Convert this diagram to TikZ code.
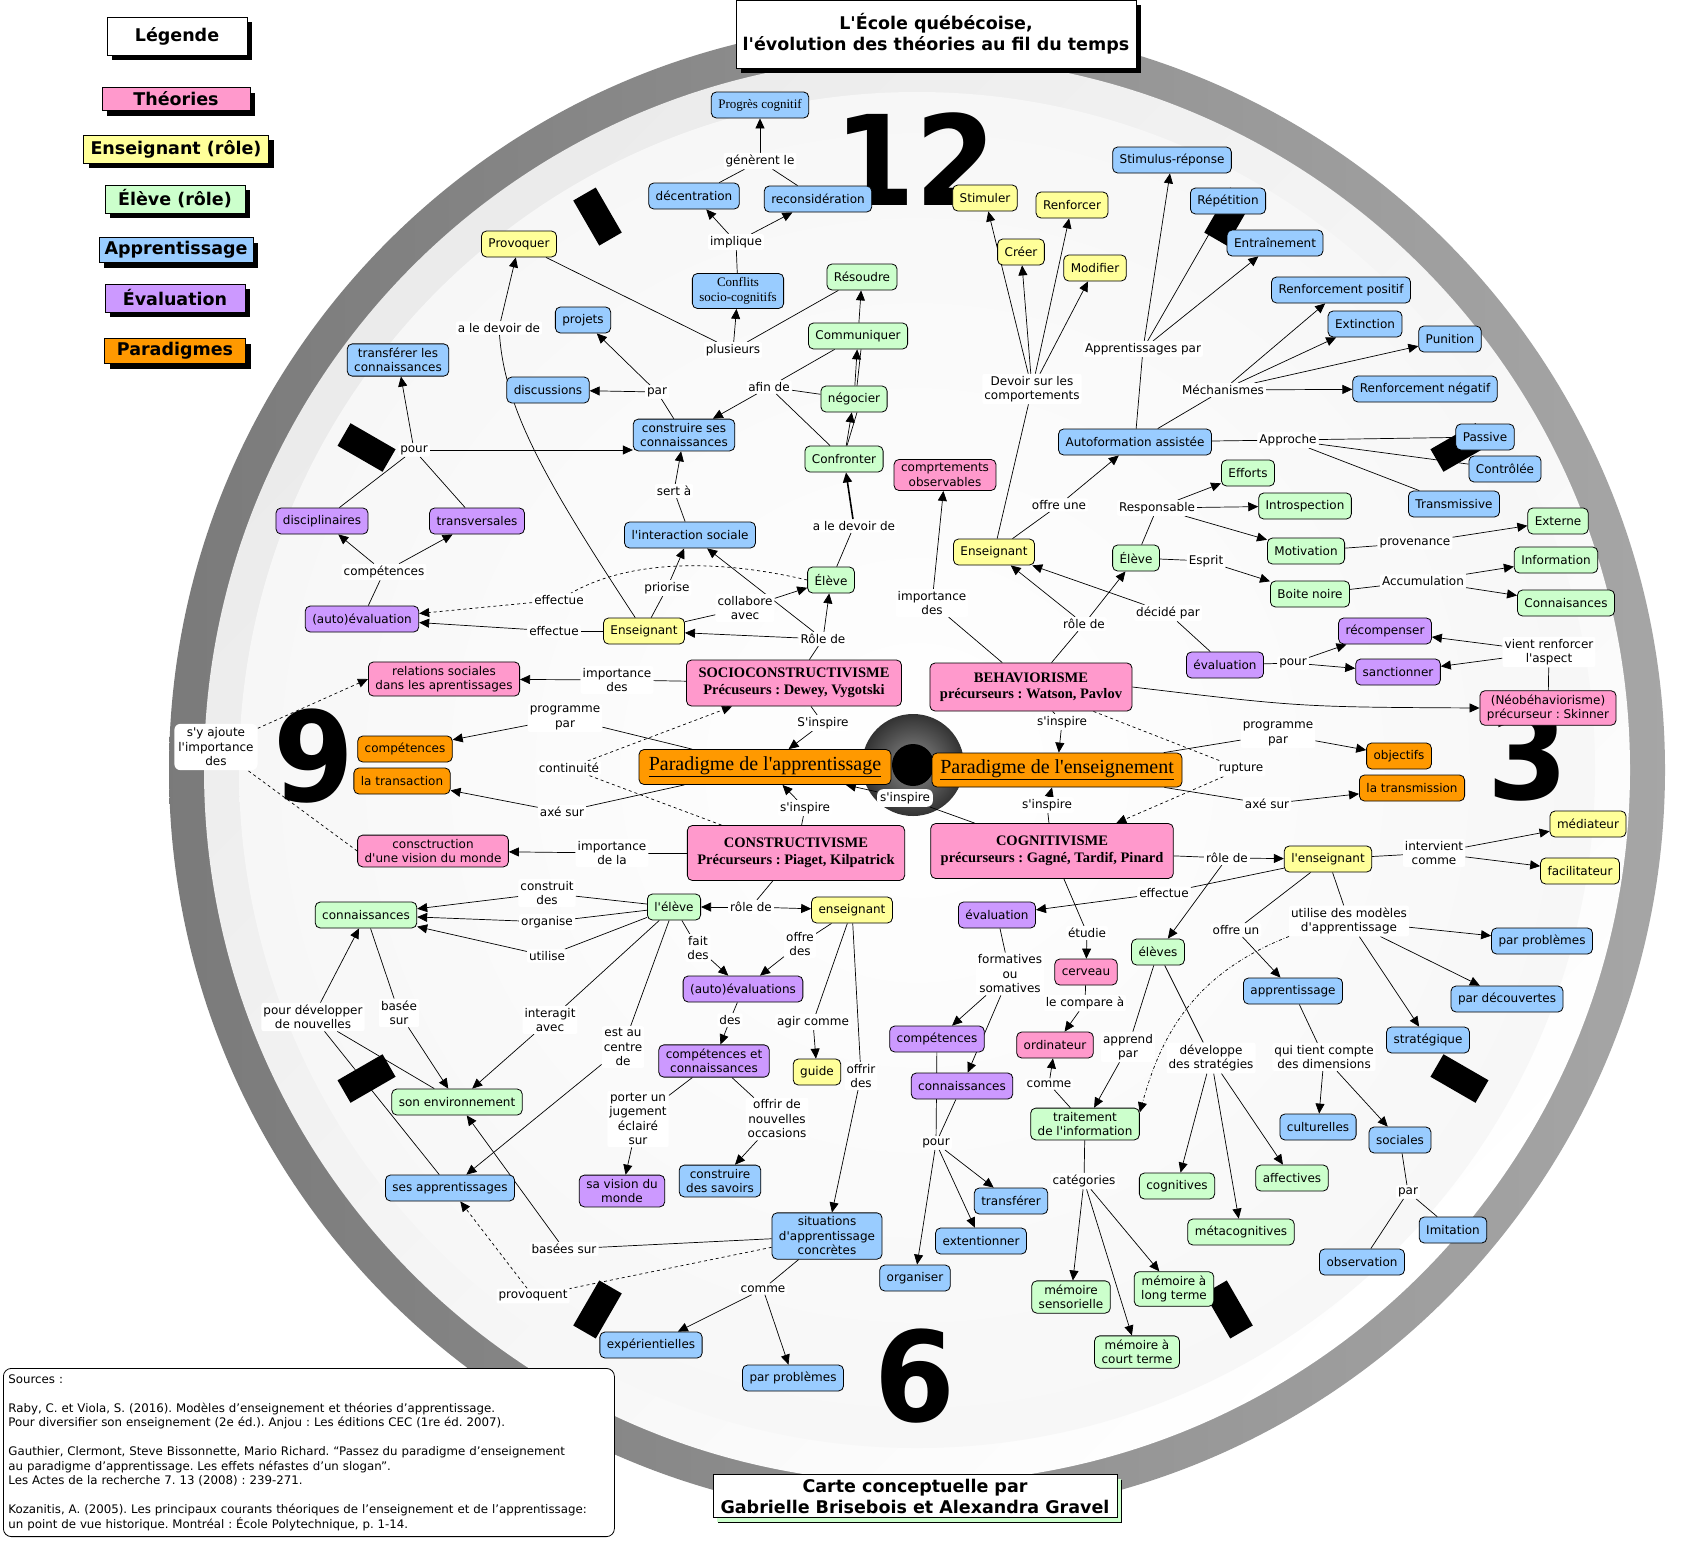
\documentclass[tikz,border=0pt]{standalone}
\usepackage{fontspec}
\setmainfont{DejaVu Sans}[Ligatures=TeXOff]
\newfontfamily\serifface{Liberation Serif}[Ligatures=TeXOff]
\usetikzlibrary{arrows.meta,shadows}
\definecolor{theo}{HTML}{FF99CC}
\definecolor{ens}{HTML}{FFFF99}
\definecolor{elv}{HTML}{CCFFCC}
\definecolor{appr}{HTML}{99CCFF}
\definecolor{evl}{HTML}{CC99FF}
\definecolor{para}{HTML}{FF9900}
\newcommand\mapsize{\fontsize{12}{14.5}\selectfont}
\pgfdeclarelayer{face}
\pgfdeclarelayer{links}
\pgfsetlayers{face,links,main}
\frenchspacing
\begin{document}
\begin{tikzpicture}[x=1pt, y=-1pt,
    concept/.style={draw, rounded corners=5pt, align=center, inner xsep=7pt, inner ysep=4pt,
      minimum height=26pt, line width=0.8pt, font=\mapsize},
    theory/.style={concept, fill=theo},
    teacher/.style={concept, fill=ens},
    pupil/.style={concept, fill=elv},
    learning/.style={concept, fill=appr},
    assess/.style={concept, fill=evl},
    paradigm/.style={concept, fill=para},
    school/.style={theory, inner xsep=10pt, font=\serifface\bfseries\fontsize{14.5}{16.5}\selectfont},
    big paradigm/.style={paradigm, font=\serifface\fontsize{20}{22}\selectfont},
    phrase/.style={fill=white, rounded corners=2pt, align=center, inner sep=2pt, font=\mapsize},
    legend box/.style={draw, line width=1pt, inner sep=0pt, align=center,
      font=\bfseries\fontsize{17.5}{21}\selectfont,
      drop shadow={shadow xshift=5pt, shadow yshift=-5pt, fill=black, opacity=1}},
    link/.style={line width=0.7pt},
    arrow link/.style={link, -{Triangle[length=10pt,width=9pt]}},
    hour/.style={fill=black, minimum width=52pt, minimum height=26pt, inner sep=0pt},
    numeral/.style={font=\bfseries\fontsize{125}{125}\selectfont, xscale=0.93, inner sep=0pt}
  ]
  \useasboundingbox (0,0) rectangle (1688,1547);

  \begin{pgfonlayer}{face}
    \fill[white] (0,0) rectangle (1688,1547);
    \shade[left color=black!52, right color=black!35] (917,770) circle[radius=748pt];
    \shade[left color=black!8, right color=white, shading angle=45] (917,770) circle[radius=713pt];
    \begin{scope}
      \clip (917,770) circle[radius=678pt];
      \shade[inner color=white, outer color=black!6] (917,770) circle[radius=1300pt];
    \end{scope}
    \foreach \a in {30,60,120,150,210,240,300,330}
      \path (913,763) ++(\a:631) node[hour, rotate=-\a] (tick\a) {};
    \node[numeral] (n12) at (915,159) {12};
    \node[numeral] (n3) at (1528,754) {3};
    \node[numeral] (n6) at (915,1376) {6};
    \node[numeral] (n9) at (314,756) {9};
    \begin{scope}
      \clip (913,765) circle[radius=51pt];
      \shade[inner color=black!45, outer color=black] (913,765) circle[radius=80pt];
    \end{scope}
    \fill[black] (913,765) circle[radius=21pt];
  \end{pgfonlayer}

  \node[legend box, fill=white, minimum width=140pt, minimum height=38pt] (legende) at (177,36) {Légende};
  \node[legend box, fill=theo, minimum width=148pt, minimum height=23pt] (lg-theories) at (176,99) {Théories};
  \node[legend box, fill=ens, minimum width=185pt, minimum height=28pt] (lg-enseignant) at (176,149) {Enseignant (rôle)};
  \node[legend box, fill=elv, minimum width=140pt, minimum height=28pt] (lg-eleve) at (175,199) {Élève (rôle)};
  \node[legend box, fill=appr, minimum width=154pt, minimum height=25pt] (lg-apprentissage) at (176,250) {Apprentissage};
  \node[legend box, fill=evl, minimum width=140pt, minimum height=28pt] (lg-evaluation) at (175,298) {Évaluation};
  \node[legend box, fill=para, minimum width=141pt, minimum height=25pt] (lg-paradigmes) at (175,351) {Paradigmes};
  \node[legend box, fill=white, minimum width=400pt, minimum height=68pt] (title) at (936,34)
    {L'École québécoise,\\l'évolution des théories au fil du temps};
  \node[legend box, fill=white, minimum width=404pt, minimum height=43pt,
    drop shadow={shadow xshift=4pt, shadow yshift=-4pt, fill=elv, opacity=1}] (credit) at (915,1496)
    {Carte conceptuelle par\\Gabrielle Brisebois et Alexandra Gravel};
  \node[draw, fill=white, rounded corners=8pt, line width=0.8pt, anchor=north west, align=left,
    text width=601pt, inner xsep=5pt, inner ysep=6pt, font=\fontsize{11.8}{14.5}\selectfont] (sources) at (3,1368)
    {Sources :\\[14.5pt]
     Raby, C. et Viola, S. (2016). Modèles d’enseignement et théories d’apprentissage.\\
     Pour diversifier son enseignement (2e éd.). Anjou : Les éditions CEC (1re éd. 2007).\\[14.5pt]
     Gauthier, Clermont, Steve Bissonnette, Mario Richard. “Passez du paradigme d’enseignement\\
     au paradigme d’apprentissage. Les effets néfastes d’un slogan”.\\
     Les Actes de la recherche 7. 13 (2008) : 239-271.\\[14.5pt]
     Kozanitis, A. (2005). Les principaux courants théoriques de l’enseignement et de l’apprentissage:\\
     un point de vue historique. Montréal : École Polytechnique, p. 1-14.};

  \node[learning, font=\serifface\fontsize{13}{15}\selectfont] (progres) at (760,105) {Progrès cognitif};
  \node[phrase] (generent) at (760,161) {génèrent le};
  \node[learning] (decentration) at (694,196) {décentration};
  \node[learning] (reconsideration) at (818,199) {reconsidération};
  \node[phrase] (implique) at (736,242) {implique};
  \node[learning, font=\serifface\fontsize{13}{15}\selectfont] (conflits) at (738,291) {Conflits\\socio-cognitifs};
  \node[phrase] (plusieurs) at (733,350) {plusieurs};
  \node[teacher] (provoquer) at (519,244) {Provoquer};
  \node[phrase] (devoir1) at (499,328) {a le devoir de};
  \node[learning] (projets) at (583,320) {projets};
  \node[learning] (transferer) at (398,360) {transférer les\\connaissances};
  \node[learning] (discussions) at (548,390) {discussions};
  \node[phrase] (par1) at (657,392) {par};
  \node[learning] (construire) at (684,435) {construire ses\\connaissances};
  \node[phrase] (afin) at (769,387) {afin de};
  \node[phrase] (pour1) at (414,450) {pour};
  \node[phrase] (sert) at (674,491) {sert à};
  \node[pupil] (resoudre) at (862,277) {Résoudre};
  \node[pupil] (communiquer) at (858,336) {Communiquer};
  \node[pupil] (negocier) at (854,399) {négocier};
  \node[pupil] (confronter) at (844,459) {Confronter};
  \node[phrase] (devoir2) at (854,526) {a le devoir de};
  \node[pupil] (eleve1) at (831,580) {Élève};
  \node[learning] (interaction) at (690,535) {l'interaction sociale};
  \node[phrase] (priorise) at (667,588) {priorise};
  \node[phrase] (collabore) at (745,608) {collabore\\avec};
  \node[teacher] (ens1) at (644,631) {Enseignant};
  \node[phrase] (effectue1) at (559,600) {effectue};
  \node[phrase] (effectue2) at (554,631) {effectue};
  \node[assess] (autoeval) at (362,619) {(auto)évaluation};
  \node[phrase] (competences0) at (384,572) {compétences};
  \node[assess] (disciplinaires) at (322,521) {disciplinaires};
  \node[assess] (transversales) at (477,521) {transversales};
  \node[phrase] (role1) at (823,639) {Rôle de};
  \node[theory] (relations) at (444,679) {relations sociales\\dans les aprentissages};
  \node[phrase] (importance1) at (617,680) {importance\\des};
  \node[school, minimum width=215pt, minimum height=46pt] (socio) at (794,683)
    {SOCIOCONSTRUCTIVISME\\Précuseurs : Dewey, Vygotski};
  \node[phrase] (inspire1) at (823,723) {S'inspire};
  \node[phrase] (programme1) at (565,718) {programme\\par};
  \node[paradigm] (competences1) at (405,749) {compétences};
  \node[paradigm] (transaction) at (402,781) {la transaction};
  \node[phrase] (continuite) at (569,768) {continuité};
  \node[big paradigm, minimum width=252pt, minimum height=35pt] (parapp) at (765,767)
    {\underline{Paradigme de l'apprentissage}};
  \node[phrase] (axe1) at (562,812) {axé sur};
  \node[phrase] (inspire2) at (805,808) {s'inspire};
  \node[school, minimum width=212pt, minimum height=55pt] (constr) at (796,853)
    {CONSTRUCTIVISME\\Précurseurs : Piaget, Kilpatrick};
  \node[theory] (vision) at (433,851) {consctruction\\d'une vision du monde};
  \node[phrase] (importance2) at (612,853) {importance\\de la};
  \node[pupil] (eleve2) at (674,907) {l'élève};
  \node[phrase] (role2) at (751,907) {rôle de};
  \node[teacher] (ens2) at (852,910) {enseignant};
  \node[phrase] (construit) at (547,893) {construit\\des};
  \node[phrase] (organise) at (547,922) {organise};
  \node[phrase] (utilise) at (547,956) {utilise};
  \node[pupil] (connaissances1) at (366,915) {connaissances};
  \node[phrase] (fait) at (698,948) {fait\\des};
  \node[phrase] (offre1) at (800,944) {offre\\des};
  \node[assess] (autoevals) at (743,989) {(auto)évaluations};
  \node[phrase] (interagit) at (550,1020) {interagit\\avec};
  \node[phrase] (centre) at (623,1047) {est au\\centre\\de};
  \node[phrase] (des1) at (730,1020) {des};
  \node[phrase] (agir) at (813,1022) {agir comme};
  \node[phrase] (developper) at (313,1017) {pour développer\\de nouvelles};
  \node[phrase] (basee) at (399,1013) {basée\\sur};
  \node[pupil] (environnement) at (457,1102) {son environnement};
  \node[assess] (compcon) at (714,1061) {compétences et\\connaissances};
  \node[teacher] (guide) at (817,1072) {guide};
  \node[phrase] (offrir) at (861,1076) {offrir\\des};
  \node[phrase] (porter) at (638,1119) {porter un\\jugement\\éclairé\\sur};
  \node[phrase] (occasions) at (777,1119) {offrir de\\nouvelles\\occasions};
  \node[learning] (sesapp) at (450,1188) {ses apprentissages};
  \node[assess] (savision) at (622,1191) {sa vision du\\monde};
  \node[learning] (savoirs) at (720,1181) {construire\\des savoirs};
  \node[learning] (situations) at (827,1236) {situations\\d'apprentissage\\concrètes};
  \node[phrase] (basees) at (564,1249) {basées sur};
  \node[phrase] (provoquent) at (533,1296) {provoquent};
  \node[phrase] (comme1) at (763,1289) {comme};
  \node[learning] (experientielles) at (651,1345) {expérientielles};
  \node[learning] (probleme1) at (793,1378) {par problèmes};
  \node[phrase, rounded corners=6pt, inner sep=4pt] (ajoute) at (216,747) {s'y ajoute\\l'importance\\des};

  \node[teacher] (stimuler) at (985,198) {Stimuler};
  \node[teacher] (renforcer) at (1072,205) {Renforcer};
  \node[teacher] (creer) at (1021,252) {Créer};
  \node[teacher] (modifier) at (1095,268) {Modifier};
  \node[phrase] (devoir3) at (1032,389) {Devoir sur les\\comportements};
  \node[learning] (stimulus) at (1172,160) {Stimulus-réponse};
  \node[learning] (repetition) at (1228,201) {Répétition};
  \node[learning] (entrainement) at (1275,243) {Entraînement};
  \node[phrase] (apppar) at (1143,349) {Apprentissages par};
  \node[phrase] (mecanismes) at (1223,390) {Méchanismes};
  \node[learning] (renfpos) at (1341,290) {Renforcement positif};
  \node[learning] (extinction) at (1365,324) {Extinction};
  \node[learning] (punition) at (1450,339) {Punition};
  \node[learning] (renfneg) at (1425,389) {Renforcement négatif};
  \node[learning] (autoformation) at (1135,442) {Autoformation assistée};
  \node[phrase] (approche) at (1288,440) {Approche};
  \node[learning] (passive) at (1485,437) {Passive};
  \node[learning] (controlee) at (1505,469) {Contrôlée};
  \node[learning] (transmissive) at (1454,504) {Transmissive};
  \node[theory] (observables) at (945,475) {comprtements\\observables};
  \node[pupil] (efforts) at (1248,473) {Efforts};
  \node[phrase] (responsable) at (1157,508) {Responsable};
  \node[pupil] (introspection) at (1305,506) {Introspection};
  \node[phrase] (offreune) at (1059,505) {offre une};
  \node[teacher] (ens3) at (994,552) {Enseignant};
  \node[pupil] (eleve3) at (1136,558) {Élève};
  \node[phrase] (esprit) at (1206,561) {Esprit};
  \node[pupil] (motivation) at (1306,551) {Motivation};
  \node[phrase] (provenance) at (1415,543) {provenance};
  \node[pupil] (externe) at (1558,521) {Externe};
  \node[pupil] (information) at (1556,560) {Information};
  \node[phrase] (accumulation) at (1423,581) {Accumulation};
  \node[pupil] (boitenoire) at (1310,594) {Boite noire};
  \node[pupil] (connaisances) at (1566,603) {Connaisances};
  \node[phrase] (importance3) at (932,603) {importance\\des};
  \node[phrase] (role3) at (1084,624) {rôle de};
  \node[phrase] (decide) at (1168,613) {décidé par};
  \node[assess] (evaluation1) at (1225,665) {évaluation};
  \node[phrase] (pour2) at (1293,663) {pour};
  \node[assess] (recompenser) at (1385,631) {récompenser};
  \node[assess] (sanctionner) at (1398,672) {sanctionner};
  \node[phrase] (renforceraspect) at (1549,652) {vient renforcer\\l'aspect};
  \node[theory] (neo) at (1548,708) {(Néobéhaviorisme)\\précurseur : Skinner};
  \node[school, minimum width=198pt, minimum height=48pt] (behav) at (1031,687)
    {BEHAVIORISME\\précurseurs : Watson, Pavlov};
  \node[phrase] (inspire3) at (1062,722) {s'inspire};
  \node[big paradigm, minimum width=250pt, minimum height=34pt] (parens) at (1057,770)
    {\underline{Paradigme de l'enseignement}};
  \node[phrase] (programme2) at (1278,734) {programme\\par};
  \node[paradigm] (objectifs) at (1399,756) {objectifs};
  \node[phrase] (rupture) at (1241,769) {rupture};
  \node[phrase] (axe2) at (1267,804) {axé sur};
  \node[paradigm] (transmission) at (1412,788) {la transmission};
  \node[phrase, rounded corners=6pt, inner sep=3pt] (inspire4) at (905,798) {s'inspire};
  \node[phrase] (inspire5) at (1047,805) {s'inspire};
  \node[school, minimum width=240pt, minimum height=55pt] (cogni) at (1052,851)
    {COGNITIVISME\\précurseurs : Gagné, Tardif, Pinard};
  \node[phrase] (role4) at (1227,858) {rôle de};
  \node[teacher] (ens4) at (1328,859) {l'enseignant};
  \node[phrase] (intervient) at (1434,853) {intervient\\comme};
  \node[teacher] (mediateur) at (1588,824) {médiateur};
  \node[teacher] (facilitateur) at (1580,871) {facilitateur};
  \node[phrase] (effectue3) at (1164,893) {effectue};
  \node[assess] (evaluation2) at (997,915) {évaluation};
  \node[phrase] (etudie) at (1087,933) {étudie};
  \node[theory] (cerveau) at (1086,972) {cerveau};
  \node[pupil] (eleves) at (1158,952) {élèves};
  \node[phrase] (offreun) at (1236,930) {offre un};
  \node[phrase] (modeles) at (1349,921) {utilise des modèles\\d'apprentissage};
  \node[learning] (probleme2) at (1542,941) {par problèmes};
  \node[learning] (apprentissage) at (1293,991) {apprentissage};
  \node[learning] (decouvertes) at (1507,999) {par découvertes};
  \node[phrase] (formatives) at (1010,974) {formatives\\ou\\somatives};
  \node[phrase] (compare) at (1085,1003) {le compare à};
  \node[learning] (strategique) at (1428,1040) {stratégique};
  \node[assess] (competences2) at (937,1039) {compétences};
  \node[theory] (ordinateur) at (1055,1045) {ordinateur};
  \node[phrase] (apprend) at (1128,1047) {apprend\\par};
  \node[phrase] (strategies) at (1211,1058) {développe\\des stratégies};
  \node[phrase] (dimensions) at (1324,1057) {qui tient compte\\des dimensions};
  \node[assess] (connaissances2) at (962,1086) {connaissances};
  \node[phrase] (comme2) at (1049,1084) {comme};
  \node[pupil] (traitement) at (1085,1124) {traitement\\de l'information};
  \node[learning] (culturelles) at (1318,1127) {culturelles};
  \node[learning] (sociales) at (1400,1140) {sociales};
  \node[phrase] (pour3) at (936,1143) {pour};
  \node[phrase] (categories) at (1084,1181) {catégories};
  \node[pupil] (cognitives) at (1177,1186) {cognitives};
  \node[pupil] (affectives) at (1292,1178) {affectives};
  \node[phrase] (par2) at (1408,1192) {par};
  \node[learning] (transferer2) at (1011,1201) {transférer};
  \node[pupil] (metacognitives) at (1241,1232) {métacognitives};
  \node[learning] (imitation) at (1453,1230) {Imitation};
  \node[learning] (extentionner) at (981,1241) {extentionner};
  \node[learning] (observation) at (1362,1262) {observation};
  \node[learning] (organiser) at (915,1278) {organiser};
  \node[pupil] (memsens) at (1071,1297) {mémoire\\sensorielle};
  \node[pupil] (memlong) at (1174,1289) {mémoire à\\long terme};
  \node[pupil] (memcourt) at (1137,1352) {mémoire à\\court terme};

  \begin{pgfonlayer}{links}
    \draw[arrow link] (generent) -- (progres);
    \draw[link] (decentration) -- (generent);
    \draw[link] (reconsideration) -- (generent);
    \draw[arrow link] (implique) -- (decentration);
    \draw[arrow link] (implique) -- (reconsideration);
    \draw[link] (conflits) -- (implique);
    \draw[arrow link] (plusieurs) -- (conflits);
    \draw[link] (provoquer) -- (plusieurs);
    \draw[link] (resoudre) -- (plusieurs);
    \draw[link] (ens1) .. controls (545,480) and (505,410) .. (devoir1);
    \draw[arrow link] (devoir1) -- (provoquer);
    \draw[link] (construire) -- (par1);
    \draw[arrow link] (par1) -- (projets);
    \draw[arrow link] (par1) -- (discussions);
    \draw[link] (communiquer) -- (afin);
    \draw[link] (negocier) -- (afin);
    \draw[link] (confronter) -- (afin);
    \draw[arrow link] (afin) -- (construire);
    \draw[arrow link] (communiquer) -- (resoudre);
    \draw[arrow link] (negocier) -- (communiquer);
    \draw[link] ([xshift=3pt]negocier.north) -- ([xshift=3pt]communiquer.south);
    \draw[arrow link] (confronter) -- (negocier);
    \draw[link] ([xshift=3pt]confronter.north) -- ([xshift=3pt]negocier.south);
    \draw[arrow link, line width=1.6pt] (devoir2) -- (confronter);
    \draw[link] (eleve1) -- (devoir2);
    \draw[link] (disciplinaires) -- (pour1);
    \draw[link] (transversales) -- (pour1);
    \draw[arrow link] (pour1) -- (transferer);
    \draw[arrow link] (pour1) -- (construire.west |- pour1);
    \draw[link] (autoeval) -- (competences0);
    \draw[arrow link] (competences0) -- (disciplinaires);
    \draw[arrow link] (competences0) -- (transversales);
    \draw[link] (ens1) -- (effectue2);
    \draw[arrow link] (effectue2) -- (autoeval);
    \draw[link, dashed] (eleve1.west) .. controls (700,555) and (620,565) .. (effectue1);
    \draw[arrow link, dashed] (effectue1) -- (autoeval);
    \draw[link] (ens1) -- (priorise);
    \draw[arrow link] (priorise) -- (interaction);
    \draw[link] (ens1) -- (collabore);
    \draw[arrow link] (collabore) -- (eleve1);
    \draw[link] (interaction) -- (sert);
    \draw[arrow link] (sert) -- (construire);
    \draw[link] (socio) -- (role1);
    \draw[arrow link] (role1) -- (ens1);
    \draw[arrow link] (role1) -- (eleve1);
    \draw[arrow link] (role1) -- (interaction);
    \draw[link] (socio) -- (importance1);
    \draw[arrow link] (importance1) -- (relations);
    \draw[link] (socio) -- (inspire1);
    \draw[arrow link] (inspire1) -- (parapp);
    \draw[link] (parapp) -- (programme1);
    \draw[arrow link] (programme1) -- (competences1);
    \draw[link] (parapp) -- (axe1);
    \draw[arrow link] (axe1) -- (transaction);
    \draw[link, dashed] (constr) -- (continuite);
    \draw[arrow link, dashed] (continuite) -- (socio);
    \draw[link] (constr) -- (inspire2);
    \draw[arrow link] (inspire2) -- (parapp);
    \draw[link] (cogni) -- (inspire4);
    \draw[arrow link] (inspire4) -- (parapp);
    \draw[link] (constr) -- (importance2);
    \draw[arrow link] (importance2) -- (vision);
    \draw[link, dashed] (vision.west) -- (ajoute);
    \draw[arrow link, dashed] (ajoute) -- (relations.west);
    \draw[link] (constr) -- (role2);
    \draw[arrow link] (role2) -- (eleve2);
    \draw[arrow link] (role2) -- (ens2);
    \draw[link] (eleve2) -- (construit);
    \draw[link] (eleve2) -- (organise);
    \draw[link] (eleve2) -- (utilise);
    \draw[arrow link] (construit) -- (connaissances1);
    \draw[arrow link] (organise) -- (connaissances1);
    \draw[arrow link] (utilise) -- (connaissances1);
    \draw[link] (eleve2) -- (fait);
    \draw[arrow link] (fait) -- (autoevals);
    \draw[link] (ens2) -- (offre1);
    \draw[arrow link] (offre1) -- (autoevals);
    \draw[link] (autoevals) -- (des1);
    \draw[arrow link] (des1) -- (compcon);
    \draw[link] (compcon) -- (porter);
    \draw[arrow link] (porter) -- (savision);
    \draw[link] (compcon) -- (occasions);
    \draw[arrow link] (occasions) -- (savoirs);
    \draw[link] (eleve2) -- (interagit);
    \draw[arrow link] (interagit) -- (environnement);
    \draw[link] (eleve2) -- (centre);
    \draw[arrow link] (centre) -- (sesapp);
    \draw[link] (connaissances1) -- (basee);
    \draw[arrow link] (basee) -- (environnement);
    \draw[link] (environnement) -- (developper);
    \draw[link] (sesapp) -- (developper);
    \draw[arrow link] (developper) -- (connaissances1);
    \draw[link] (ens2) -- (agir);
    \draw[arrow link] (agir) -- (guide);
    \draw[link] (ens2) -- (offrir);
    \draw[arrow link] (offrir) -- (situations);
    \draw[link] (situations) -- (basees);
    \draw[arrow link] (basees) -- (environnement);
    \draw[link, dashed] (situations) -- (provoquent);
    \draw[arrow link, dashed] (provoquent) -- (sesapp);
    \draw[link] (situations) -- (comme1);
    \draw[arrow link] (comme1) -- (experientielles);
    \draw[arrow link] (comme1) -- (probleme1);

    \draw[link] (ens3) -- (devoir3);
    \draw[arrow link] (devoir3) -- (stimuler);
    \draw[arrow link] (devoir3) -- (creer);
    \draw[arrow link] (devoir3) -- (renforcer);
    \draw[arrow link] (devoir3) -- (modifier);
    \draw[link] (autoformation) -- (apppar);
    \draw[arrow link] (apppar) -- (stimulus);
    \draw[arrow link] (apppar) -- (repetition);
    \draw[arrow link] (apppar) -- (entrainement);
    \draw[link] (autoformation) -- (mecanismes);
    \draw[arrow link] (mecanismes) -- (renfpos);
    \draw[arrow link] (mecanismes) -- (extinction);
    \draw[arrow link] (mecanismes) -- (punition);
    \draw[arrow link] (mecanismes) -- (renfneg);
    \draw[link] (autoformation) -- (approche);
    \draw[link] (approche) -- (passive);
    \draw[link] (approche) -- (controlee);
    \draw[link] (approche) -- (transmissive);
    \draw[link] (ens3) -- (offreune);
    \draw[arrow link] (offreune) -- (autoformation);
    \draw[link] (eleve3) -- (responsable);
    \draw[arrow link] (responsable) -- (efforts);
    \draw[arrow link] (responsable) -- (introspection);
    \draw[arrow link] (responsable) -- (motivation);
    \draw[link] (eleve3) -- (esprit);
    \draw[arrow link] (esprit) -- (boitenoire);
    \draw[link] (motivation) -- (provenance);
    \draw[arrow link] (provenance) -- (externe);
    \draw[link] (boitenoire) -- (accumulation);
    \draw[arrow link] (accumulation) -- (information);
    \draw[arrow link] (accumulation) -- (connaisances);
    \draw[link] (behav) -- (importance3);
    \draw[arrow link] (importance3) -- (observables);
    \draw[link] (behav) -- (role3);
    \draw[arrow link] (role3) -- (ens3);
    \draw[arrow link] (role3) -- (eleve3);
    \draw[link] (evaluation1) -- (decide);
    \draw[arrow link] (decide) -- (ens3);
    \draw[link] (evaluation1) -- (pour2);
    \draw[arrow link] (pour2) -- (recompenser);
    \draw[arrow link] (pour2) -- (sanctionner);
    \draw[link] (neo) -- (renforceraspect);
    \draw[arrow link] (renforceraspect) -- (recompenser);
    \draw[arrow link] (renforceraspect) -- (sanctionner);
    \draw[arrow link] (behav.east) .. controls (1300,707) .. (neo.west);
    \draw[link] (behav) -- (inspire3);
    \draw[arrow link] (inspire3) -- (parens);
    \draw[link] (parens) -- (programme2);
    \draw[arrow link] (programme2) -- (objectifs);
    \draw[link] (parens) -- (axe2);
    \draw[arrow link] (axe2) -- (transmission);
    \draw[link, dashed] (behav) -- (rupture);
    \draw[arrow link, dashed] (rupture) -- (cogni);
    \draw[link] (cogni) -- (inspire5);
    \draw[arrow link] (inspire5) -- (parens);
    \draw[link] (cogni) -- (role4);
    \draw[arrow link] (role4) -- (ens4);
    \draw[arrow link] (role4) -- (eleves);
    \draw[link] (ens4) -- (intervient);
    \draw[arrow link] (intervient) -- (mediateur);
    \draw[arrow link] (intervient) -- (facilitateur);
    \draw[link] (ens4) -- (effectue3);
    \draw[arrow link] (effectue3) -- (evaluation2);
    \draw[link] (ens4) -- (offreun);
    \draw[arrow link] (offreun) -- (apprentissage);
    \draw[link] (ens4) -- (modeles);
    \draw[arrow link] (modeles) -- (probleme2);
    \draw[arrow link] (modeles) -- (decouvertes);
    \draw[arrow link] (modeles) -- (strategique);
    \draw[arrow link, dash dot] (modeles.south west) .. controls (1190,975) and (1160,1040) .. (traitement.12);
    \draw[link] (cogni) -- (etudie);
    \draw[arrow link] (etudie) -- (cerveau);
    \draw[link] (cerveau) -- (compare);
    \draw[arrow link] (compare) -- (ordinateur);
    \draw[link] (evaluation2) -- (formatives);
    \draw[arrow link] (formatives) -- (competences2);
    \draw[arrow link] (formatives) -- (connaissances2);
    \draw[link] (competences2) -- (pour3);
    \draw[link] (connaissances2) -- (pour3);
    \draw[arrow link] (pour3) -- (organiser);
    \draw[arrow link] (pour3) -- (transferer2);
    \draw[arrow link] (pour3) -- (extentionner);
    \draw[link] (traitement) -- (comme2);
    \draw[arrow link] (comme2) -- (ordinateur);
    \draw[link] (eleves) -- (apprend);
    \draw[arrow link] (apprend) -- (traitement);
    \draw[link] (eleves) -- (strategies);
    \draw[arrow link] (strategies) -- (cognitives);
    \draw[arrow link] (strategies) -- (metacognitives);
    \draw[arrow link] (strategies) -- (affectives);
    \draw[link] (traitement) -- (categories);
    \draw[arrow link] (categories) -- (memsens);
    \draw[arrow link] (categories) -- (memcourt);
    \draw[arrow link] (categories) -- (memlong);
    \draw[link] (apprentissage) -- (dimensions);
    \draw[arrow link] (dimensions) -- (culturelles);
    \draw[arrow link] (dimensions) -- (sociales);
    \draw[link] (sociales) -- (par2);
    \draw[link] (par2) -- (observation);
    \draw[link] (par2) -- (imitation);
  \end{pgfonlayer}
\end{tikzpicture}
\end{document}
